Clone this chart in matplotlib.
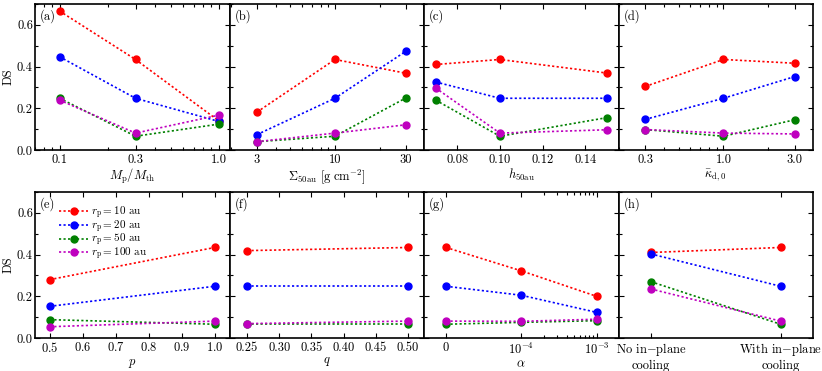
import matplotlib

matplotlib.use("Agg")
import matplotlib.pyplot as plt
import matplotlib.ticker as mticker

# fonts: computer modern look
plt.rcParams["font.family"] = "serif"
plt.rcParams["font.serif"] = ["cmr10"]
plt.rcParams["mathtext.fontset"] = "cm"
plt.rcParams["axes.formatter.use_mathtext"] = True
plt.rcParams["axes.unicode_minus"] = False

# planet radii and colours of the four series
radii = [10, 20, 50, 100]
series_colors = ["r", "b", "g", "m"]

# x values of each panel
mp_ratio = [0.1, 0.3, 1.0]
sigma_50au = [3, 10, 30]
h_50au = [0.07, 0.10, 0.15]
kappa_d0 = [0.3, 1.0, 3.0]
p_vals = [0.5, 1.0]
q_vals = [0.25, 0.5]
alpha_vals = [0, 1e-4, 1e-3]
cooling_pos = [0, 1]
cooling_labels = ["No in$-$plane\ncooling", "With in$-$plane\ncooling"]

# DS values, one row per radius (10, 20, 50, 100 au)
ds_mp = [
    [0.666, 0.434, 0.14],
    [0.447, 0.248, 0.137],
    [0.248, 0.066, 0.124],
    [0.239, 0.081, 0.167],
]
ds_sigma = [
    [0.182, 0.434, 0.368],
    [0.074, 0.248, 0.474],
    [0.040, 0.066, 0.25],
    [0.040, 0.081, 0.121],
]
ds_h = [
    [0.41, 0.434, 0.369],
    [0.326, 0.248, 0.248],
    [0.239, 0.066, 0.155],
    [0.297, 0.081, 0.097],
]
ds_kappa = [
    [0.305, 0.434, 0.416],
    [0.147, 0.248, 0.352],
    [0.098, 0.066, 0.145],
    [0.098, 0.081, 0.077],
]
ds_p = [
    [0.28, 0.434],
    [0.152, 0.248],
    [0.088, 0.066],
    [0.054, 0.081],
]
ds_q = [
    [0.419, 0.434],
    [0.248, 0.248],
    [0.066, 0.066],
    [0.069, 0.081],
]
ds_alpha = [
    [0.434, 0.322, 0.2],
    [0.248, 0.205, 0.123],
    [0.066, 0.075, 0.083],
    [0.081, 0.08, 0.09],
]
ds_cool = [
    [0.41, 0.434],
    [0.403, 0.248],
    [0.27, 0.066],
    [0.235, 0.081],
]

FS = 9


def plot_panel(ax, xvals, ds_rows, tag):
    """
    draw the four radius series on one panel
    """
    lines = []
    for loc, row in enumerate(ds_rows):
        (ln,) = ax.plot(
            xvals,
            row,
            linestyle=(0, (1.3, 1.4)),
            linewidth=1.2,
            marker="o",
            markersize=5,
            color=series_colors[loc],
            label=rf"$r_{{\rm p}} = {radii[loc]}$ au",
        )
        lines.append(ln)
    ax.set_ylim(0, 0.7)
    ax.yaxis.set_major_locator(mticker.MultipleLocator(0.2))
    ax.yaxis.set_minor_locator(mticker.MultipleLocator(0.1))
    ax.yaxis.set_major_formatter(mticker.FormatStrFormatter("%.1f"))
    ax.tick_params(which="both", direction="in", top=True, right=True, labelsize=FS)
    ax.tick_params(which="major", length=3.5, width=0.8)
    ax.tick_params(which="minor", length=2.5, width=0.8)
    ax.tick_params(axis="x", pad=2.5)
    ax.tick_params(axis="y", pad=1.5)
    for sp in ax.spines.values():
        sp.set_linewidth(1.2)
    ax.text(0.025, 0.92, tag, transform=ax.transAxes, ha="left", va="center", fontsize=FS)
    return lines


def set_log_ticks(ax, ticks, labels, lims):
    ax.set_xscale("log")
    ax.set_xlim(*lims)
    ax.xaxis.set_major_locator(mticker.FixedLocator(ticks))
    ax.xaxis.set_major_formatter(mticker.FixedFormatter(labels))
    ax.xaxis.set_minor_formatter(mticker.NullFormatter())


fig = plt.figure(figsize=(8.22, 3.71), dpi=100)
W, H = 822.0, 371.0
x0, x1 = 35.0, 813.0
pw = (x1 - x0) / 4
rows_px = [(4.0, 150.0), (192.0, 338.0)]
axes = []
for r, (ytop, ybot) in enumerate(rows_px):
    for c in range(4):
        ax = fig.add_axes([(x0 + c * pw) / W, (H - ybot) / H, pw / W, (ybot - ytop) / H])
        axes.append(ax)

# (a) planet mass
plot_panel(axes[0], mp_ratio, ds_mp, "(a)")
set_log_ticks(axes[0], [0.1, 0.3, 1.0], ["0.1", "0.3", "1.0"], (0.07, 1.17))
axes[0].set_xlabel(r"$M_{\rm p}/M_{\rm th}$", fontsize=FS, labelpad=1)

# (b) surface density
plot_panel(axes[1], sigma_50au, ds_sigma, "(b)")
set_log_ticks(axes[1], [3, 10, 30], ["3", "10", "30"], (1.96, 39.6))
axes[1].set_xlabel(r"$\Sigma_{\rm 50au}\ [{\rm g\ cm^{-2}}]$", fontsize=FS, labelpad=1)

# (c) aspect ratio
plot_panel(axes[2], h_50au, ds_h, "(c)")
axes[2].set_xlim(0.0645, 0.1555)
axes[2].xaxis.set_major_locator(mticker.FixedLocator([0.08, 0.10, 0.12, 0.14]))
axes[2].xaxis.set_major_formatter(mticker.FormatStrFormatter("%.2f"))
axes[2].set_xlabel(r"$h_{\rm 50au}$", fontsize=FS, labelpad=1)

# (d) opacity
plot_panel(axes[3], kappa_d0, ds_kappa, "(d)")
set_log_ticks(axes[3], [0.3, 1.0, 3.0], ["0.3", "1.0", "3.0"], (0.198, 3.98))
axes[3].set_xlabel(r"$\bar{\kappa}_{\rm d,0}$", fontsize=FS, labelpad=1)

# (e) surface density slope, with legend
lines = plot_panel(axes[4], p_vals, ds_p, "(e)")
axes[4].set_xlim(0.455, 1.045)
axes[4].xaxis.set_major_locator(mticker.MultipleLocator(0.1))
axes[4].set_xlabel(r"$p$", fontsize=FS, labelpad=1)
axes[4].legend(
    handles=lines,
    loc="upper left",
    bbox_to_anchor=(0.09, 0.96),
    frameon=False,
    fontsize=8,
    handlelength=2.6,
    handletextpad=0.3,
    labelspacing=-0.25,
    borderpad=0.4,
    borderaxespad=0.2,
)

# (f) temperature slope
plot_panel(axes[5], q_vals, ds_q, "(f)")
axes[5].set_xlim(0.2227, 0.525)
axes[5].xaxis.set_major_locator(mticker.MultipleLocator(0.05))
axes[5].xaxis.set_major_formatter(mticker.FormatStrFormatter("%.2f"))
axes[5].set_xlabel(r"$q$", fontsize=FS, labelpad=1)

# (g) viscosity
plot_panel(axes[6], alpha_vals, ds_alpha, "(g)")
axes[6].set_xscale("symlog", linthresh=1e-4, linscale=0.9)
axes[6].set_xlim(-2.93e-5, 1.96e-3)
axes[6].xaxis.set_major_locator(mticker.FixedLocator([0, 1e-4, 1e-3]))
axes[6].xaxis.set_major_formatter(mticker.FixedFormatter(["0", r"$10^{-4}$", r"$10^{-3}$"]))
axes[6].xaxis.set_minor_locator(mticker.FixedLocator([k * 1e-4 for k in range(2, 10)]))
axes[6].set_xlabel(r"$\alpha$", fontsize=FS, labelpad=1)

# (h) cooling
plot_panel(axes[7], cooling_pos, ds_cool, "(h)")
axes[7].set_xlim(-0.25, 1.25)
axes[7].set_xticks(cooling_pos, labels=cooling_labels, multialignment="center")

# only the left panels keep y labels
for i, ax in enumerate(axes):
    if i % 4 == 0:
        ax.set_ylabel("DS", fontsize=FS, labelpad=2)
    else:
        ax.tick_params(axis="y", labelleft=False)

fig.savefig("out.png", dpi=100)
